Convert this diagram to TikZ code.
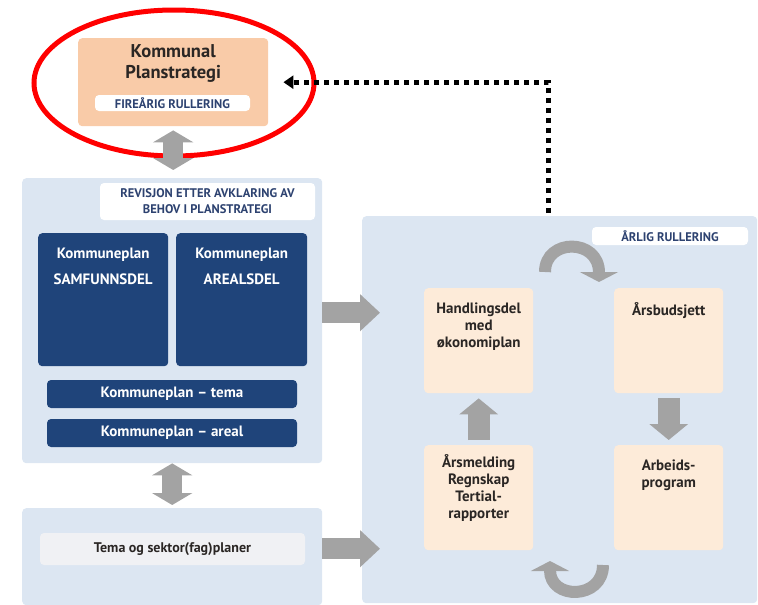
\documentclass[tikz,border=0pt]{standalone}
\usepackage{fontspec}
\setmainfont{PT Sans}
\usetikzlibrary{positioning,arrows.meta}
\definecolor{panelblue}{RGB}{220,230,242}
\definecolor{navy}{RGB}{31,68,122}
\definecolor{tagtext}{RGB}{45,66,112}
\definecolor{stratorange}{RGB}{249,203,168}
\definecolor{paleorange}{RGB}{253,235,217}
\definecolor{arrowgray}{RGB}{163,163,163}
\definecolor{darktext}{RGB}{42,38,36}
\definecolor{fagfill}{RGB}{240,241,244}
\begin{document}
\begin{tikzpicture}[x=1pt,y=1pt,
    box/.style={anchor=north west,inner sep=0pt,rounded corners=4pt},
    panel/.style={box,fill=panelblue},
    navybox/.style={box,fill=navy},
    palebox/.style={box,fill=paleorange,minimum width=109pt,minimum height=105pt},
    tag/.style={fill=white,rounded corners=4pt,inner sep=0pt,text=tagtext,
        font=\bfseries\fontsize{12.5}{16}\selectfont,align=center},
    boxtext/.style={text=darktext,align=center,font=\bfseries\fontsize{15}{17}\selectfont},
    navytext/.style={text=white,align=center,font=\bfseries\fontsize{15}{26}\selectfont},
    bigarrow/.style={draw=arrowgray,line width=21pt,-{Triangle[length=20pt,width=36pt]}},
    twoway/.style={draw=arrowgray,line width=20pt,
        {Triangle[length=12pt,width=40pt]}-{Triangle[length=12pt,width=40pt]}},
    steparrow/.style={draw=arrowgray,line width=22pt,-{Triangle[length=16pt,width=38pt]}},
    cyclearrow/.style={draw=arrowgray,line width=12pt,-{Triangle[length=10pt,width=38pt]}},
    dotline/.style={draw=black,line width=5pt,dash pattern=on 5pt off 5pt,
        -{Triangle[length=10pt,width=13pt]}}]
\useasboundingbox (0,0) rectangle (758,-605);

% panels
\node[panel,minimum width=300pt,minimum height=285pt] (revpanel) at (22,-178) {};
\node[panel,minimum width=300pt,minimum height=97pt] (fagpanel) at (22,-508) {};
\node[panel,minimum width=395pt,minimum height=387pt] (aarpanel) at (362,-216) {};

% planstrategi
\node[box,fill=stratorange,minimum width=190pt,minimum height=88pt] (strat) at (78,-38) {};
\node[boxtext,font=\bfseries\fontsize{18.5}{21}\selectfont,below=3pt of strat.north] (strattxt) {Kommunal\\Planstrategi};
\node[tag,minimum width=155pt,minimum height=16pt] (fireaar) at (172.5,-103) {FIREÅRIG RULLERING};
\draw[red,line width=5pt] (174,-83) ellipse [x radius=140, y radius=73];

% kommuneplan
\node[tag,minimum width=215pt,minimum height=37pt] (revisjon) at (207.5,-201.5) {REVISJON ETTER AVKLARING AV\\BEHOV I PLANSTRATEGI};
\node[navybox,minimum width=130pt,minimum height=133pt] (samf) at (38,-233) {};
\node[navybox,minimum width=131pt,minimum height=133pt] (areal) at (176,-233) {};
\node[navytext,below=11pt of samf.north] (samftxt) {Kommuneplan\\SAMFUNNSDEL};
\node[navytext,below=11pt of areal.north] (arealtxt) {Kommuneplan\\AREALSDEL};
\node[navybox,anchor=center,minimum width=250pt,minimum height=28pt,navytext] (tema) at (172,-394) {Kommuneplan – tema};
\node[navybox,anchor=center,minimum width=250pt,minimum height=28pt,navytext] (arealbar) at (172,-433) {Kommuneplan – areal};

% tema og sektor
\node[fill=fagfill,rounded corners=4pt,minimum width=265pt,minimum height=32pt,inner sep=0pt,
    text=darktext,font=\bfseries\fontsize{14}{16}\selectfont] (fag) at (172.5,-549) {Tema og sektor(fag)planer};

% aarlig rullering
\node[tag,minimum width=156pt,minimum height=18pt] (aarlig) at (670,-236) {ÅRLIG RULLERING};
\node[palebox] (hand) at (424,-288) {};
\node[palebox] (budsj) at (614,-288) {};
\node[palebox] (meld) at (424,-445) {};
\node[palebox] (arbprog) at (614,-445) {};
\node[boxtext,below=11pt of hand.north] (handtxt) {Handlingsdel\\med\\økonomiplan};
\node[boxtext,below=11pt of budsj.north] (budsjtxt) {Årsbudsjett};
\node[boxtext,below=6pt of meld.north] (meldtxt) {Årsmelding\\Regnskap\\Tertial-\\rapporter};
\node[boxtext,below=11pt of arbprog.north] (arbtxt) {Arbeids-\\program};

% arrows
\draw[twoway,shorten <=4pt,shorten >=8pt] (strat.south) -- (strat.south |- revpanel.north);
\draw[twoway,shorten >=3pt] (revpanel.south) -- (revpanel.south |- fagpanel.north);
\draw[bigarrow,shorten >=-18pt] ([yshift=8pt]revpanel.east) -- ([yshift=8pt]revpanel.east -| aarpanel.west);
\draw[bigarrow,shorten >=-18pt] ([yshift=8pt]fagpanel.east) -- ([yshift=8pt]fagpanel.east -| aarpanel.west);
\draw[steparrow,shorten <=5pt,shorten >=5pt] (meld.north) -- (hand.south);
\draw[steparrow,shorten <=5pt,shorten >=5pt] (budsj.south) -- (arbprog.north);
\coordinate (topstart) at (545,-272);
\coordinate (topend) at (599,-282);
\coordinate (botstart) at (603,-565);
\coordinate (botend) at (550,-561);
\draw[cyclearrow] (topstart) .. controls (545,-238) and (599,-238) .. (topend);
\draw[cyclearrow] (botstart) .. controls (603,-600) and (550,-600) .. (botend);
\draw[dotline,shorten <=3pt,shorten >=15pt] ([xshift=-11.5pt]aarpanel.north) |- (strat.east);
\end{tikzpicture}
\end{document}
